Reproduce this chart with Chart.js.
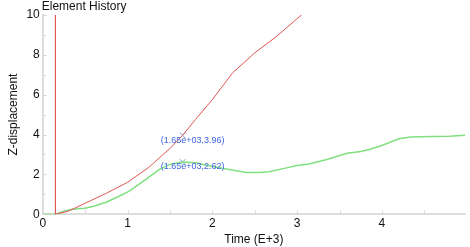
<!DOCTYPE html>
<html>
<head>
<meta charset="utf-8">
<script src="https://cdn.jsdelivr.net/npm/chart.js@4"></script>
<style>
html,body{margin:0;padding:0;background:#fff;}
#wrap{width:470px;height:247px;}
</style>
</head>
<body>
<div id="wrap"><canvas id="c" width="470" height="247"></canvas></div>
<script>
const titleText = "Element History";
const xTitle = "Time (E+3)";
const yTitle = "Z-displacement";
const xTicks = [0, 1, 2, 3, 4];
const yTicks = [0, 2, 4, 6, 8, 10];

const redT = [0.15, 0.15, 0.3, 0.5, 0.75, 1.0, 1.25, 1.5, 1.65, 1.8, 2.0, 2.24, 2.5, 2.75, 3.05, 3.1];
const redZ = [12, 0, 0.15, 0.55, 1.05, 1.6, 2.35, 3.3, 3.96, 4.75, 5.75, 7.1, 8.1, 8.9, 10, 10.2];

const greenT = [0, 0.15, 0.25, 0.32, 0.4, 0.5, 0.6, 0.75, 0.9, 1.02, 1.2, 1.38, 1.5, 1.65, 1.8, 2.0, 2.2, 2.4, 2.55, 2.67, 2.85, 2.98, 3.14, 3.35, 3.59, 3.75, 3.85, 4.0, 4.2, 4.34, 4.6, 4.8, 4.98];
const greenZ = [0, 0, 0.15, 0.22, 0.27, 0.3, 0.4, 0.6, 0.9, 1.16, 1.7, 2.26, 2.5, 2.62, 2.58, 2.4, 2.24, 2.09, 2.09, 2.13, 2.3, 2.43, 2.52, 2.75, 3.06, 3.15, 3.25, 3.45, 3.79, 3.88, 3.9, 3.91, 3.96];

const markT = [1.65, 1.65];
const markZ = [3.96, 2.62];
const markLabels = ["(1.65e+03,3.96)", "(1.65e+03,2.62)"];

const FONT = "'Liberation Sans', Arial, sans-serif";

const pts = (xs, ys) => xs.map((x, i) => ({x: x, y: ys[i]}));

const extras = {
  id: 'extras',
  afterDraw(chart) {
    const ctx = chart.ctx;
    const xs = chart.scales.x, ys = chart.scales.y;
    const a = chart.chartArea;
    ctx.save();
    ctx.strokeStyle = '#d8d8d8';
    ctx.lineWidth = 1;
    for (let v = 0.5; v < xs.max; v += 0.5) {
      const px = Math.round(xs.getPixelForValue(v)) + 0.5;
      ctx.beginPath();
      ctx.moveTo(px, a.bottom);
      ctx.lineTo(px, a.bottom - 4);
      ctx.stroke();
    }
    for (let v = 1; v <= ys.max; v += 1) {
      const py = Math.round(ys.getPixelForValue(v)) + 0.5;
      ctx.beginPath();
      ctx.moveTo(a.left, py);
      ctx.lineTo(a.left + (v % 2 === 0 ? 4 : 3), py);
      ctx.stroke();
    }
    ctx.fillStyle = '#111';
    ctx.font = '12px ' + FONT;
    ctx.textAlign = 'left';
    ctx.textBaseline = 'middle';
    ctx.fillText(titleText, a.left - 1, 7);
    ctx.fillStyle = '#3f66e0';
    ctx.font = '9px ' + FONT;
    markT.forEach((t, i) => {
      const px = xs.getPixelForValue(t);
      const py = ys.getPixelForValue(markZ[i]);
      ctx.fillText(markLabels[i], px - 22, py + 5);
    });
    ctx.restore();
  }
};

new Chart(document.getElementById('c'), {
  type: 'scatter',
  data: {
    datasets: [
      {
        data: pts(redT, redZ),
        showLine: true,
        borderColor: '#e05555',
        borderWidth: 1,
        pointRadius: 0,
        tension: 0
      },
      {
        data: pts(greenT, greenZ),
        showLine: true,
        borderColor: '#80e080',
        borderWidth: 1.5,
        pointRadius: 0,
        tension: 0
      },
      {
        data: pts(markT, markZ),
        showLine: false,
        pointStyle: 'crossRot',
        pointRadius: 4,
        borderColor: '#7f9bd0',
        borderWidth: 1
      }
    ]
  },
  options: {
    responsive: false,
    animation: false,
    devicePixelRatio: 1,
    layout: {padding: {top: 15, right: 3, left: 6, bottom: 0}},
    plugins: {legend: {display: false}, tooltip: {enabled: false}, title: {display: false}},
    scales: {
      x: {
        type: 'linear',
        min: 0,
        max: 4.98,
        grid: {display: false, drawTicks: false},
        border: {display: true, color: '#dddddd', width: 2},
        afterBuildTicks: (s) => { s.ticks = xTicks.map(v => ({value: v})); },
        ticks: {color: '#111', font: {family: FONT, size: 12}, padding: 2, maxRotation: 0, autoSkip: false},
        title: {display: true, text: xTitle, color: '#111', font: {family: FONT, size: 12}, padding: {top: 0, bottom: 0}}
      },
      y: {
        min: 0,
        max: 10,
        grid: {display: false, drawTicks: false},
        border: {display: true, color: '#dddddd', width: 2},
        afterBuildTicks: (s) => { s.ticks = yTicks.map(v => ({value: v})); },
        ticks: {color: '#111', font: {family: FONT, size: 12}, padding: 3, autoSkip: false},
        title: {display: true, text: yTitle, color: '#111', font: {family: FONT, size: 12}, padding: {top: 0, bottom: 3}}
      }
    }
  },
  plugins: [extras]
});
</script>
</body>
</html>
